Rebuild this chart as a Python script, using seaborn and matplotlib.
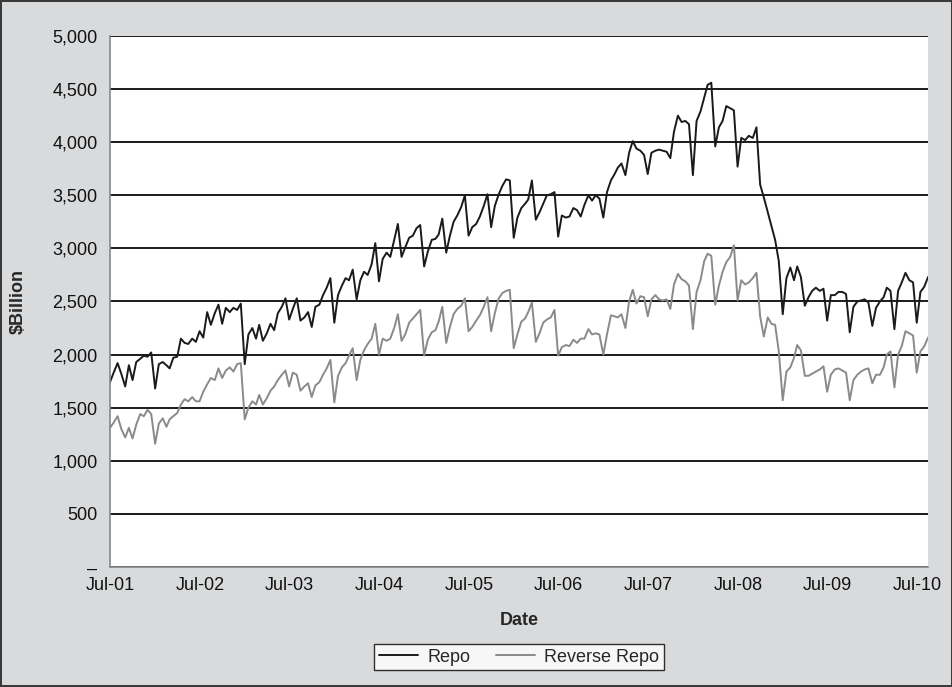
import pandas as pd
import matplotlib
matplotlib.use('Agg')
import matplotlib.pyplot as plt
import matplotlib.dates as mdates
import matplotlib.ticker as mticker
import seaborn as sns

# semi-monthly observations: Jun 30 2001 .. Aug 15 2010 (15th and month end)
dates = []
for m in pd.period_range('2001-06', '2010-08', freq='M'):
    dates += [m.start_time + pd.Timedelta(days=14), m.end_time.normalize()]
dates = dates[1:-1]

# $ billion
repo = [
    1740, 1830, 1920, 1820, 1700, 1900, 1760, 1930, 1960, 1990, 1980, 2020, 1680,  # 2001
    1910, 1930, 1900, 1870, 1970, 1980, 2150, 2110, 2100, 2150, 2120, 2220,
    2160, 2400, 2280, 2390, 2470, 2290, 2440, 2400, 2440, 2420, 2480, 1910,  # 2002
    2190, 2250, 2150, 2280, 2130, 2200, 2290, 2230, 2390, 2450, 2530, 2330,
    2430, 2530, 2320, 2350, 2400, 2260, 2450, 2470, 2560, 2630, 2720, 2300,  # 2003
    2560, 2650, 2720, 2700, 2800, 2520, 2700, 2780, 2750, 2850, 3050, 2690,
    2900, 2960, 2920, 3080, 3230, 2920, 3010, 3100, 3120, 3190, 3220, 2830,  # 2004
    2970, 3080, 3090, 3130, 3280, 2960, 3120, 3250, 3310, 3390, 3500, 3120,
    3200, 3230, 3300, 3400, 3510, 3200, 3400, 3510, 3590, 3650, 3640, 3100,  # 2005
    3290, 3380, 3420, 3460, 3640, 3270, 3340, 3420, 3500, 3510, 3530, 3110,
    3310, 3290, 3300, 3380, 3360, 3300, 3410, 3500, 3450, 3500, 3470, 3290,  # 2006
    3530, 3640, 3700, 3760, 3800, 3690, 3900, 4010, 3940, 3920, 3880, 3700,
    3900, 3920, 3930, 3920, 3910, 3850, 4100, 4250, 4190, 4200, 4170, 3690,  # 2007
    4200, 4290, 4420, 4540, 4560, 3960, 4140, 4200, 4340, 4320, 4300, 3770,
    4040, 4020, 4060, 4040, 4140, 3600, 3480, 3340, 3210, 3080, 2880, 2380,  # 2008
    2720, 2820, 2700, 2830, 2730, 2460, 2540, 2600, 2630, 2600, 2620, 2320,
    2560, 2560, 2590, 2590, 2570, 2210, 2450, 2500, 2510, 2520, 2490, 2270,  # 2009
    2440, 2500, 2540, 2630, 2600, 2240, 2600, 2680, 2770, 2700, 2680, 2300,
    2590, 2640, 2730,  # 2010
]

reverse_repo = [
    1310, 1360, 1420, 1300, 1220, 1310, 1210, 1340, 1440, 1420, 1480, 1440, 1160,  # 2001
    1350, 1400, 1320, 1390, 1420, 1450, 1530, 1580, 1560, 1600, 1560, 1560,
    1650, 1720, 1780, 1760, 1870, 1780, 1850, 1880, 1840, 1910, 1920, 1390,  # 2002
    1500, 1560, 1530, 1620, 1530, 1590, 1660, 1700, 1760, 1810, 1850, 1700,
    1830, 1810, 1660, 1700, 1730, 1600, 1710, 1740, 1810, 1870, 1950, 1550,  # 2003
    1800, 1880, 1920, 1990, 2060, 1760, 1950, 2040, 2100, 2150, 2290, 2000,
    2150, 2130, 2150, 2250, 2380, 2130, 2190, 2300, 2340, 2380, 2420, 1990,  # 2004
    2140, 2210, 2230, 2310, 2450, 2110, 2260, 2380, 2430, 2460, 2530, 2220,
    2260, 2320, 2370, 2450, 2540, 2220, 2390, 2530, 2580, 2600, 2610, 2060,  # 2005
    2190, 2310, 2340, 2400, 2490, 2120, 2200, 2300, 2330, 2350, 2420, 1990,
    2070, 2090, 2080, 2140, 2110, 2150, 2150, 2240, 2190, 2200, 2190, 2000,  # 2006
    2190, 2370, 2360, 2350, 2380, 2250, 2500, 2610, 2480, 2550, 2540, 2360,
    2520, 2560, 2520, 2510, 2520, 2430, 2660, 2760, 2710, 2690, 2650, 2240,  # 2007
    2590, 2700, 2880, 2950, 2930, 2470, 2650, 2780, 2870, 2920, 3030, 2510,
    2700, 2660, 2680, 2720, 2770, 2360, 2170, 2350, 2290, 2280, 2030, 1570,  # 2008
    1840, 1880, 1970, 2090, 2040, 1800, 1800, 1820, 1840, 1860, 1890, 1650,
    1810, 1860, 1870, 1850, 1830, 1570, 1760, 1810, 1840, 1860, 1870, 1730,  # 2009
    1810, 1810, 1880, 2000, 2030, 1690, 2000, 2080, 2220, 2200, 2180, 1830,
    2030, 2080, 2160,  # 2010
]

df = pd.DataFrame({'Date': dates, 'Repo': repo, 'Reverse Repo': reverse_repo})
long_df = df.melt(id_vars='Date', var_name='Series', value_name='Billion')

sns.set_style('white')
plt.rcParams['font.family'] = ['Liberation Sans', 'DejaVu Sans']

fig = plt.figure(figsize=(9.53, 6.87), dpi=100, facecolor='#d9dadc',
                 edgecolor='#3a3a3a', linewidth=1.5)
ax = fig.add_axes([0.1154, 0.1747, 0.8584, 0.7729])
ax.set_facecolor('white')

sns.lineplot(data=long_df, x='Date', y='Billion', hue='Series',
             palette={'Repo': '#1a1a1a', 'Reverse Repo': '#8a8a8a'},
             linewidth=1.4, ax=ax)

ax.set_ylim(0, 5000)
ax.set_xlim(dates[0], dates[-1])
ax.yaxis.set_major_locator(mticker.MultipleLocator(500))
ax.yaxis.set_major_formatter(mticker.FuncFormatter(
    lambda v, p: '–' if v == 0 else f'{v:,.0f}'))
ax.xaxis.set_major_locator(mdates.MonthLocator(bymonth=7, bymonthday=1))
ax.xaxis.set_major_formatter(mdates.DateFormatter('%b-%y'))

ax.set_axisbelow(True)
ax.yaxis.grid(True, color='#1a1a1a', linewidth=1.4)
ax.xaxis.grid(False)
for side in ['top', 'right']:
    ax.spines[side].set_visible(False)
for side in ['left', 'bottom']:
    ax.spines[side].set_color('#888888')
    ax.spines[side].set_linewidth(1.2)

ax.tick_params(axis='both', which='major', direction='out', length=5, width=1,
               color='#333333', labelsize=13, labelcolor='#111111', pad=4)
ax.tick_params(axis='x', pad=2)

ax.set_xlabel('Date', fontsize=13, fontweight='bold', labelpad=13)
ax.set_ylabel('$Billion', fontsize=13, fontweight='bold', labelpad=18)

handles, labels = ax.get_legend_handles_labels()
leg = ax.legend(handles, labels, loc='center', bbox_to_anchor=(0.5, -0.17),
                ncol=2, frameon=True, fancybox=False, edgecolor='black',
                fontsize=13, handlelength=2.2, handletextpad=0.5,
                columnspacing=1.4, borderpad=0.25, borderaxespad=0)
leg.get_frame().set_linewidth(1.0)
leg.get_frame().set_facecolor('white')

fig.savefig('out.png', dpi=100, facecolor=fig.get_facecolor(),
            edgecolor=fig.get_edgecolor())
